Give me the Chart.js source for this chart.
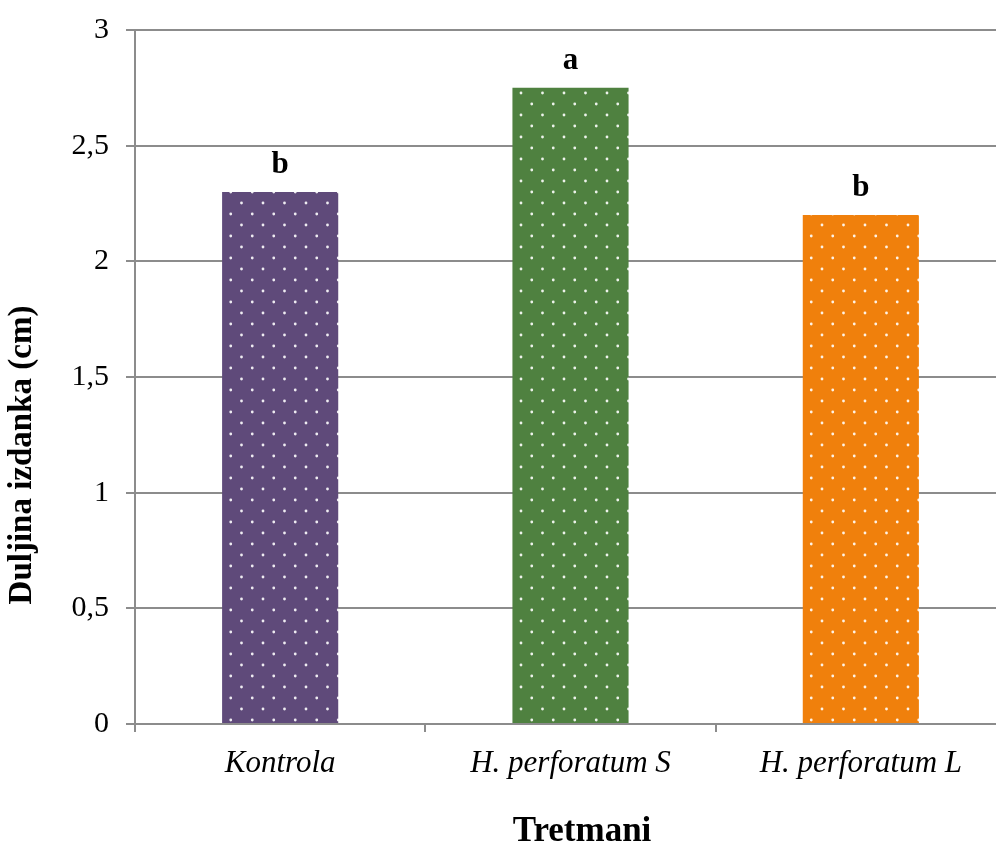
<!DOCTYPE html>
<html>
<head>
<meta charset="utf-8">
<script src="https://cdn.jsdelivr.net/npm/chart.js@4.4.0/dist/chart.umd.min.js"></script>
<style>
  html, body { margin: 0; padding: 0; background: #fff; overflow: hidden; }
  #wrap { width: 1010px; height: 847px; }
</style>
</head>
<body>
<div id="wrap"><canvas id="shootChart" width="1010" height="847"></canvas></div>
<script>
"use strict";

// data
const treatments = ["Kontrola", "H. perforatum S", "H. perforatum L"];
const shootLength = [2.3, 2.75, 2.2];
const letters = ["b", "a", "b"];
const barColors = ["#5f4a7a", "#4f8140", "#f0800c"];
const yTicks = [0, 0.5, 1, 1.5, 2, 2.5, 3];

const serif = "'Liberation Serif', 'DejaVu Serif', serif";
const gridGray = "#8c8c8c";

// dotted fill like the excel pattern
function dotPattern(color) {
  const tile = document.createElement("canvas");
  tile.width = 43;
  tile.height = 22;
  const c = tile.getContext("2d");
  c.fillStyle = color;
  c.fillRect(0, 0, 43, 22);
  c.fillStyle = "rgba(255,255,255,0.9)";
  const dots = [[5, 5], [26.5, 5], [15.75, 16], [37.25, 16]];
  dots.forEach(function (d) {
    c.beginPath();
    c.arc(d[0], d[1], 1.4, 0, Math.PI * 2);
    c.fill();
  });
  return c.createPattern(tile, "repeat");
}

const fills = [];
for (let i = 0; i < barColors.length; i++) {
  fills.push(dotPattern(barColors[i]));
}

// letters above bars + axis titles
const textPlugin = {
  id: "textPlugin",
  afterDatasetsDraw(chart) {
    const ctx = chart.ctx;
    const meta = chart.getDatasetMeta(0);
    ctx.save();
    ctx.fillStyle = "#000";
    ctx.textAlign = "center";
    ctx.textBaseline = "middle";
    ctx.font = "bold 31px " + serif;
    meta.data.forEach(function (bar, i) {
      ctx.fillText(letters[i], bar.x, bar.y - 27);
    });

    ctx.font = "bold 35px " + serif;
    ctx.fillText("Tretmani", 582, 832);

    ctx.translate(22, 455);
    ctx.rotate(-Math.PI / 2);
    ctx.font = "bold 33px " + serif;
    ctx.fillText("Duljina izdanka (cm)", 0, 0);
    ctx.restore();
  }
};

const data = {
  labels: treatments,
  datasets: [
    {
      data: shootLength,
      backgroundColor: fills,
      borderWidth: 0,
      categoryPercentage: 1,
      barPercentage: 0.4
    }
  ]
};

const config = {
  type: "bar",
  data: data,
  options: {
    responsive: false,
    animation: false,
    devicePixelRatio: 1,
    layout: { padding: { top: 30, right: 4, left: 0, bottom: 0 } },
    plugins: {
      legend: { display: false },
      tooltip: { enabled: false }
    },
    scales: {
      x: {
        offset: true,
        grid: {
          display: true,
          offset: true,
          drawOnChartArea: false,
          color: gridGray,
          lineWidth: 2,
          tickLength: 8
        },
        border: { color: gridGray, width: 2 },
        ticks: {
          color: "#000",
          padding: 13,
          font: { family: serif, size: 31, style: "italic" },
          maxRotation: 0
        },
        afterFit(scale) {
          scale.height = 123;
          scale.paddingLeft = 0;
          scale.paddingRight = 0;
        }
      },
      y: {
        min: 0,
        max: 3,
        afterBuildTicks(scale) {
          scale.ticks = yTicks.map(function (v) { return { value: v }; });
        },
        grid: {
          color: gridGray,
          lineWidth: 2,
          tickLength: 9
        },
        border: { color: gridGray, width: 2 },
        ticks: {
          color: "#000",
          padding: 17,
          font: { family: serif, size: 30 },
          callback: function (v) { return String(v).replace(".", ","); }
        },
        afterFit(scale) {
          scale.width = 135;
          scale.paddingTop = 0;
          scale.paddingBottom = 0;
        }
      }
    }
  },
  plugins: [textPlugin]
};

const shootChart = new Chart(document.getElementById("shootChart"), config);
</script>
</body>
</html>
